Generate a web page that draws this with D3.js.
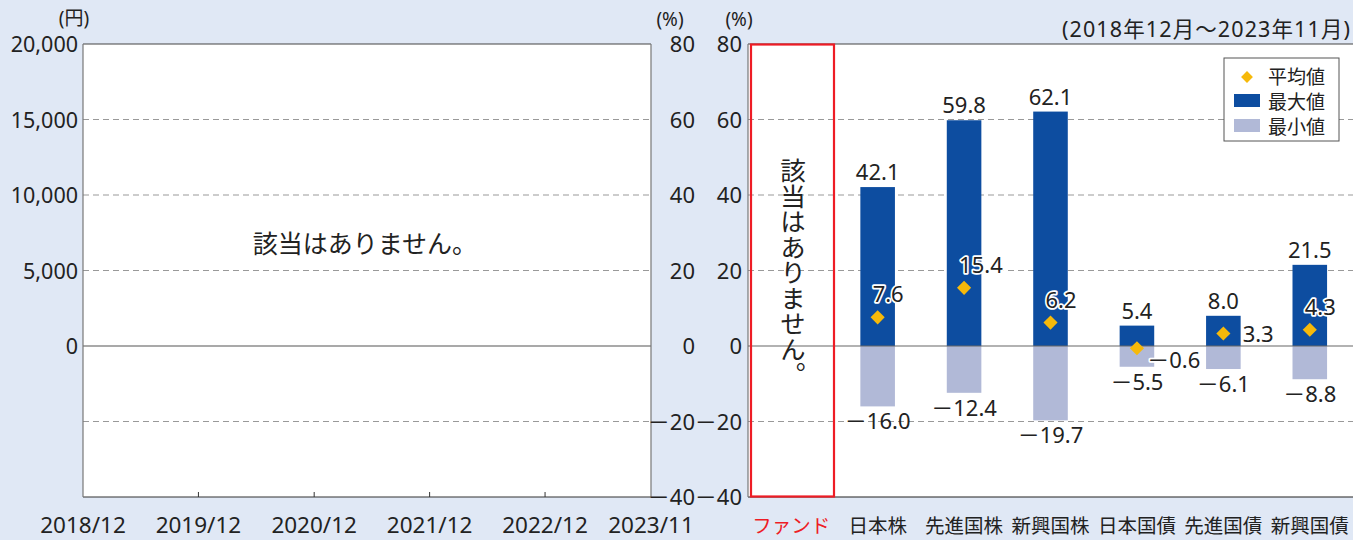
<!DOCTYPE html>
<html>
<head>
<meta charset="utf-8">
<script src="https://cdn.jsdelivr.net/npm/d3@7"></script>
<style>
  body { margin: 0; background: #e0e8f5; }
  svg { display: block; font-family: "Noto Sans", "Noto Sans CJK JP", sans-serif; }
</style>
</head>
<body>
<div id="dataviz"></div>
<script>
// price panel (no data for this fund)
var priceTicks = [0, 5000, 10000, 15000, 20000];
var priceGrid = [-5000, 5000, 10000, 15000];
var dateLabels = ["2018/12", "2019/12", "2020/12", "2021/12", "2022/12", "2023/11"];
var pctTicks = [80, 60, 40, 20, 0, -20, -40];

// comparison panel
var categories = ["ファンド", "日本株", "先進国株", "新興国株", "日本国債", "先進国債", "新興国債"];
var maxValues = [null, 42.1, 59.8, 62.1, 5.4, 8.0, 21.5];
var minValues = [null, -16.0, -12.4, -19.7, -5.5, -6.1, -8.8];
var avgValues = [null, 7.6, 15.4, 6.2, -0.6, 3.3, 4.3];

var width = 1353, height = 540;
var noData = "該当はありません。";

var svg = d3.select("#dataviz")
    .append("svg")
    .attr("width", width)
    .attr("height", height);

var plotTop = 44, plotBottom = 497;

function fmtMinus(v) {
    return v < 0 ? "－" + Math.abs(v).toFixed(1) : v.toFixed(1);
}

// ---------- left panel ----------
var L = { x0: 83, x1: 651 };
var yPrice = d3.scaleLinear().domain([-10000, 20000]).range([plotBottom, plotTop]);
var parseDate = d3.timeParse("%Y/%m");
var xDate = d3.scaleTime()
    .domain([parseDate("2018/12"), parseDate("2023/11")])
    .range([L.x0, L.x1]);
var yPct = d3.scaleLinear().domain([-40, 80]).range([plotBottom, plotTop]);

svg.append("rect")
    .attr("x", L.x0).attr("y", plotTop)
    .attr("width", L.x1 - L.x0).attr("height", plotBottom - plotTop)
    .attr("fill", "#fff");

svg.append("g").selectAll("line")
    .data(priceGrid)
    .enter().append("line")
    .attr("x1", L.x0).attr("x2", L.x1)
    .attr("y1", d => yPrice(d)).attr("y2", d => yPrice(d))
    .attr("stroke", "#999").attr("stroke-dasharray", "6,4");

svg.append("line")
    .attr("x1", L.x0).attr("x2", L.x1)
    .attr("y1", yPrice(0)).attr("y2", yPrice(0))
    .attr("stroke", "#555").attr("stroke-width", 1.2);

svg.append("line")
    .attr("x1", L.x0).attr("x2", L.x1)
    .attr("y1", plotTop).attr("y2", plotTop)
    .attr("stroke", "#444").attr("stroke-width", 1.2);
svg.append("line")
    .attr("x1", L.x0).attr("x2", L.x1)
    .attr("y1", plotBottom).attr("y2", plotBottom)
    .attr("stroke", "#333").attr("stroke-width", 1.2);
svg.append("line")
    .attr("x1", L.x0).attr("x2", L.x0)
    .attr("y1", plotTop).attr("y2", plotBottom)
    .attr("stroke", "#777").attr("stroke-width", 1.2);
svg.append("line")
    .attr("x1", L.x1).attr("x2", L.x1)
    .attr("y1", plotTop).attr("y2", plotBottom)
    .attr("stroke", "#777").attr("stroke-width", 1.2);

svg.append("g").selectAll("text")
    .data(priceTicks)
    .enter().append("text")
    .attr("x", L.x0 - 5)
    .attr("y", d => yPrice(d) + 8)
    .attr("text-anchor", "end")
    .attr("font-size", 21.5)
    .attr("fill", "#222")
    .text(d => d3.format(",")(d));

svg.append("text")
    .attr("x", 74).attr("y", 25)
    .attr("text-anchor", "middle")
    .attr("font-size", 19).attr("fill", "#222")
    .text("(円)");

// date ticks
var dateTicks = dateLabels.map(parseDate);
svg.append("g").selectAll("line")
    .data(dateTicks.slice(1, -1))
    .enter().append("line")
    .attr("x1", d => xDate(d)).attr("x2", d => xDate(d))
    .attr("y1", plotBottom).attr("y2", plotBottom - 5)
    .attr("stroke", "#333");

svg.append("g").selectAll("text")
    .data(dateLabels)
    .enter().append("text")
    .attr("x", d => xDate(parseDate(d)))
    .attr("y", 533)
    .attr("text-anchor", "middle")
    .attr("font-size", 22.5).attr("fill", "#222")
    .text(d => d);

svg.append("text")
    .attr("x", 365).attr("y", 253)
    .attr("text-anchor", "middle")
    .attr("font-size", 25).attr("fill", "#222")
    .text(noData);

// two percentage axes
svg.append("g").selectAll("text")
    .data(pctTicks)
    .enter().append("text")
    .attr("x", 695)
    .attr("y", d => yPct(d) + 8)
    .attr("text-anchor", "end")
    .attr("font-size", 22).attr("fill", "#222")
    .text(d => d < 0 ? "－" + Math.abs(d) : d);

svg.append("g").selectAll("text")
    .data(pctTicks)
    .enter().append("text")
    .attr("x", 742)
    .attr("y", d => yPct(d) + 8)
    .attr("text-anchor", "end")
    .attr("font-size", 22).attr("fill", "#222")
    .text(d => d < 0 ? "－" + Math.abs(d) : d);

svg.append("text")
    .attr("x", 670).attr("y", 26)
    .attr("text-anchor", "middle")
    .attr("font-size", 19).attr("fill", "#222")
    .text("(%)");
svg.append("text")
    .attr("x", 739).attr("y", 26)
    .attr("text-anchor", "middle")
    .attr("font-size", 19).attr("fill", "#222")
    .text("(%)");

// ---------- right panel ----------
var R = { x0: 748, x1: 1353 };
var x = d3.scaleBand().domain(categories).range([R.x0, R.x1]).paddingInner(0.6).paddingOuter(0.3);
var xCenter = d3.scaleBand().domain(categories).range([R.x0, R.x1]);

svg.append("rect")
    .attr("x", R.x0).attr("y", plotTop)
    .attr("width", R.x1 - R.x0).attr("height", plotBottom - plotTop)
    .attr("fill", "#fff");

svg.append("g").selectAll("line")
    .data([60, 40, 20, -20])
    .enter().append("line")
    .attr("x1", R.x0).attr("x2", R.x1)
    .attr("y1", d => yPct(d)).attr("y2", d => yPct(d))
    .attr("stroke", "#999").attr("stroke-dasharray", "6,4");

svg.append("line")
    .attr("x1", R.x0).attr("x2", R.x1)
    .attr("y1", plotTop).attr("y2", plotTop)
    .attr("stroke", "#444").attr("stroke-width", 1.2);
svg.append("line")
    .attr("x1", R.x0).attr("x2", R.x1)
    .attr("y1", plotBottom).attr("y2", plotBottom)
    .attr("stroke", "#222").attr("stroke-width", 1.2);
svg.append("line")
    .attr("x1", R.x0).attr("x2", R.x0)
    .attr("y1", plotTop).attr("y2", plotBottom)
    .attr("stroke", "#777").attr("stroke-width", 1.2);

var rows = categories.map((c, i) => ({ cat: c, max: maxValues[i], min: minValues[i], avg: avgValues[i] }))
    .filter(d => d.max !== null);

var bars = svg.append("g");
bars.selectAll(".maxbar")
    .data(rows)
    .enter().append("rect")
    .attr("x", d => x(d.cat))
    .attr("width", x.bandwidth())
    .attr("y", d => yPct(d.max))
    .attr("height", d => yPct(0) - yPct(d.max))
    .attr("fill", "#0d4da0");
bars.selectAll(".minbar")
    .data(rows)
    .enter().append("rect")
    .attr("x", d => x(d.cat))
    .attr("width", x.bandwidth())
    .attr("y", yPct(0))
    .attr("height", d => yPct(d.min) - yPct(0))
    .attr("fill", "#b1b9d7");

svg.append("line")
    .attr("x1", R.x0).attr("x2", R.x1)
    .attr("y1", yPct(0)).attr("y2", yPct(0))
    .attr("stroke", "#666").attr("stroke-width", 1.2);

var cx = d => xCenter(d) + xCenter.bandwidth() / 2;

svg.append("g").selectAll("text")
    .data(rows)
    .enter().append("text")
    .attr("x", d => cx(d.cat))
    .attr("y", d => yPct(d.max) - 7)
    .attr("text-anchor", "middle")
    .attr("font-size", 22).attr("fill", "#222")
    .text(d => d.max.toFixed(1));

svg.append("g").selectAll("text")
    .data(rows)
    .enter().append("text")
    .attr("x", d => cx(d.cat))
    .attr("y", d => yPct(d.min) + 23)
    .attr("text-anchor", "middle")
    .attr("font-size", 22).attr("fill", "#222")
    .text(d => fmtMinus(d.min));

svg.append("g").selectAll("path")
    .data(rows)
    .enter().append("path")
    .attr("d", d3.symbol().type(d3.symbolSquare).size(100))
    .attr("transform", d => "translate(" + cx(d.cat) + "," + yPct(d.avg) + ") rotate(45)")
    .attr("fill", "#f6b90a");

// small averages sit beside the bar, the others just above the marker
svg.append("g").selectAll("text")
    .data(rows)
    .enter().append("text")
    .attr("x", d => Math.abs(d.avg) < 4 ? cx(d.cat) + x.bandwidth() / 2 + (d.avg < 0 ? -7 : 2) : cx(d.cat) - 5)
    .attr("y", d => Math.abs(d.avg) < 4 ? yPct(d.avg) + (d.avg < 0 ? 20 : 8) : yPct(d.avg) - 15)
    .attr("font-size", 22).attr("fill", "#222")
    .attr("stroke", "#fff").attr("stroke-width", 3.5)
    .attr("paint-order", "stroke")
    .attr("stroke-linejoin", "round")
    .text(d => fmtMinus(d.avg));

// fund column (no data)
svg.append("rect")
    .attr("x", 751).attr("y", plotTop + 0.5)
    .attr("width", 83).attr("height", plotBottom - plotTop - 1)
    .attr("fill", "none")
    .attr("stroke", "#ee1c25").attr("stroke-width", 2.2);

svg.append("text")
    .attr("x", 793).attr("y", 158)
    .attr("font-size", 25.5).attr("fill", "#222")
    .style("font-family", "'Noto Sans CJK JP'")
    .style("writing-mode", "vertical-rl")
    .text(noData);

svg.append("g").selectAll("text")
    .data(categories)
    .enter().append("text")
    .attr("x", d => cx(d))
    .attr("y", 533)
    .attr("text-anchor", "middle")
    .attr("font-size", 19.5)
    .attr("fill", (d, i) => i === 0 ? "#ee1c25" : "#222")
    .text(d => d);

svg.append("text")
    .attr("x", 1062).attr("y", 37)
    .attr("font-size", 21.5).attr("fill", "#222")
    .attr("textLength", 288)
    .attr("lengthAdjust", "spacing")
    .text("(2018年12月～2023年11月)");

// legend
var legend = svg.append("g").attr("transform", "translate(1224,58)");
legend.append("rect")
    .attr("width", 115).attr("height", 83)
    .attr("fill", "#fff").attr("stroke", "#555");
legend.append("path")
    .attr("d", d3.symbol().type(d3.symbolSquare).size(70))
    .attr("transform", "translate(23,19) rotate(45)")
    .attr("fill", "#f6b90a");
legend.append("rect")
    .attr("x", 10).attr("y", 36).attr("width", 26).attr("height", 13)
    .attr("fill", "#0d4da0");
legend.append("rect")
    .attr("x", 10).attr("y", 61).attr("width", 26).attr("height", 13)
    .attr("fill", "#b1b9d7");
legend.selectAll(".lt")
    .data(["平均値", "最大値", "最小値"])
    .enter().append("text")
    .attr("x", 44)
    .attr("y", (d, i) => 26 + i * 25)
    .attr("font-size", 19).attr("fill", "#222")
    .text(d => d);
</script>
</body>
</html>
